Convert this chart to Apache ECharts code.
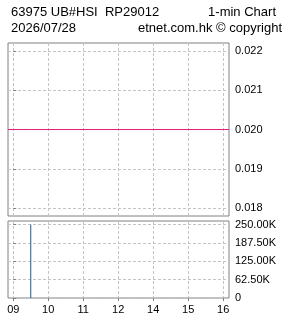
<!DOCTYPE html>
<html><head><meta charset="utf-8">
<script src="https://cdn.jsdelivr.net/npm/echarts@6/dist/echarts.min.js"></script>
<style>html,body{margin:0;padding:0;background:#fff}#c{width:285px;height:318px}</style>
</head><body><div id="c"></div>
<script>
// ---- data ----
const titleLeft1 = '63975 UB#HSI  RP29012';
const titleRight1 = '1-min Chart';
const titleLeft2 = '2026/07/28';
const titleRight2 = 'etnet.com.hk \u00a9 copyright';
// x in minutes after 09:00 (lunch break removed)
const timeTickValues = [0, 60, 120, 180, 240, 300, 360];
const timeTickLabels = ['09', '10', '11', '12', '14', '15', '16'];
const timeMin = -9, timeMax = 370;
const priceTicks = [0.018, 0.019, 0.020, 0.021, 0.022];
const priceMin = 0.0178, priceMax = 0.0222;
const priceTimes = [-9, 30, 370];
const priceValues = [0.020, 0.020, 0.020];
const volTicks = [0, 62500, 125000, 187500, 250000];
const volMax = 262000;
const volTimes = [30];
const volValues = [250000];

const FONT = '"Liberation Sans", Arial, sans-serif';
const gridLine = { show: true, lineStyle: { color: '#c4c4c4', type: [3, 2], width: 1 } };
const tickStyle = { show: true, inside: false, length: 3, lineStyle: { color: '#808080' } };

const chart = echarts.init(document.getElementById('c'), null, { renderer: 'canvas' });
chart.setOption({
  animation: false,
  backgroundColor: '#fff',
  graphic: [
    { type: 'text', left: 11, top: 6, style: { text: titleLeft1, font: '13px ' + FONT, fill: '#000' } },
    { type: 'text', right: 9, top: 6, style: { text: titleRight1, font: '13px ' + FONT, fill: '#000' } },
    { type: 'text', left: 11, top: 22, style: { text: titleLeft2, font: '13px ' + FONT, fill: '#000' } },
    { type: 'text', right: 3, top: 22, style: { text: titleRight2, font: '13px ' + FONT, fill: '#000' } }
  ],
  grid: [
    { left: 8, right: 56, top: 43, height: 173, show: true, borderColor: '#808080', borderWidth: 1, backgroundColor: '#fff' },
    { left: 8, right: 56, top: 221, height: 77, show: true, borderColor: '#808080', borderWidth: 1, backgroundColor: '#fff' }
  ],
  xAxis: [
    { type: 'value', gridIndex: 0, min: timeMin, max: timeMax,
      axisLine: { show: false }, axisLabel: { show: false },
      axisTick: { show: false, customValues: timeTickValues },
      splitLine: gridLine },
    { type: 'value', gridIndex: 1, min: timeMin, max: timeMax,
      axisLine: { show: false },
      axisTick: Object.assign({ customValues: timeTickValues }, tickStyle),
      axisLabel: { customValues: timeTickValues, margin: 6, fontFamily: FONT, fontSize: 11, color: '#000',
        formatter: v => timeTickLabels[timeTickValues.indexOf(v)] || '' },
      splitLine: gridLine }
  ],
  yAxis: [
    { type: 'value', gridIndex: 0, position: 'right', min: priceMin, max: priceMax,
      axisLine: { show: false },
      axisTick: Object.assign({ customValues: priceTicks }, tickStyle),
      axisLabel: { customValues: priceTicks, margin: 6, fontFamily: FONT, fontSize: 11, color: '#000',
        formatter: v => v.toFixed(3) },
      splitLine: gridLine },
    { type: 'value', gridIndex: 1, position: 'right', min: 0, max: volMax,
      axisLine: { show: false },
      axisTick: Object.assign({ customValues: volTicks }, tickStyle),
      axisLabel: { customValues: volTicks, margin: 6, fontFamily: FONT, fontSize: 11, color: '#000',
        formatter: v => v === 0 ? '0' : (v / 1000).toFixed(2) + 'K' },
      splitLine: gridLine }
  ],
  series: [
    { type: 'line', xAxisIndex: 0, yAxisIndex: 0, symbol: 'none', silent: true,
      lineStyle: { color: '#e0207f', width: 1 },
      data: priceTimes.map((t, i) => [t, priceValues[i]]) },
    { type: 'bar', xAxisIndex: 1, yAxisIndex: 1, barWidth: 1, silent: true,
      itemStyle: { color: '#1f5a8c' },
      data: volTimes.map((t, i) => [t, volValues[i]]) }
  ]
});
</script></body></html>
